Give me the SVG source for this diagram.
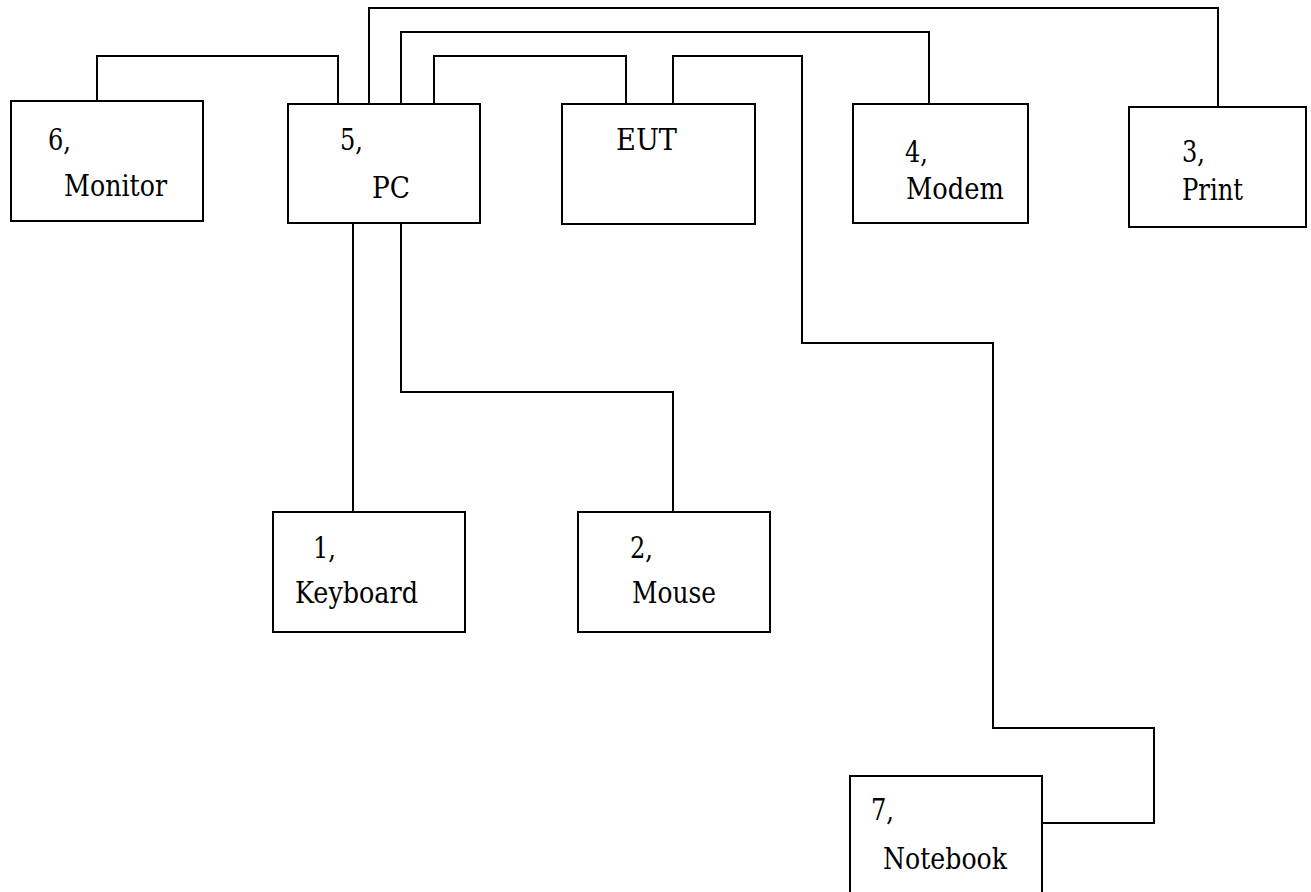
<svg xmlns="http://www.w3.org/2000/svg" width="1311" height="892" viewBox="0 0 1311 892">
<style>
.box{fill:#fff;stroke:#000;stroke-width:2}
.wire{fill:none;stroke:#000;stroke-width:2}
.t{font-family:'DejaVu Serif','Liberation Serif',serif;font-size:29px;fill:#000}
</style>
<rect width="1311" height="892" fill="#fff"/>
<g id="connectors">
<polyline class="wire" points="97,101 97,56 338,56 338,104"/>
<polyline class="wire" points="369,104 369,8 1218,8 1218,107"/>
<polyline class="wire" points="401,104 401,32 929,32 929,104"/>
<polyline class="wire" points="434,104 434,56 626,56 626,104"/>
<polyline class="wire" points="673,104 673,56 802,56 802,343 993,343 993,728 1154,728 1154,823 1042,823"/>
<polyline class="wire" points="353,223 353,512"/>
<polyline class="wire" points="401,223 401,392 673,392 673,512"/>
</g>
<g id="monitor" class="t"><rect class="box" x="11" y="101" width="192" height="120"/><text x="48" y="150" textLength="23" lengthAdjust="spacingAndGlyphs">6,</text><text x="64" y="196" textLength="103" lengthAdjust="spacingAndGlyphs">Monitor</text></g>
<g id="pc" class="t"><rect class="box" x="288" y="104" width="192" height="119"/><text x="340" y="150" textLength="23" lengthAdjust="spacingAndGlyphs">5,</text><text x="372" y="198" textLength="38" lengthAdjust="spacingAndGlyphs">PC</text></g>
<g id="eut" class="t"><rect class="box" x="562" y="104" width="193" height="120"/><text x="616" y="150" textLength="61" lengthAdjust="spacingAndGlyphs">EUT</text></g>
<g id="modem" class="t"><rect class="box" x="853" y="104" width="175" height="119"/><text x="905" y="162" textLength="23" lengthAdjust="spacingAndGlyphs">4,</text><text x="906" y="199" textLength="98" lengthAdjust="spacingAndGlyphs">Modem</text></g>
<g id="print" class="t"><rect class="box" x="1129" y="107" width="177" height="120"/><text x="1182" y="162" textLength="23" lengthAdjust="spacingAndGlyphs">3,</text><text x="1182" y="200" textLength="61" lengthAdjust="spacingAndGlyphs">Print</text></g>
<g id="keyboard" class="t"><rect class="box" x="273" y="512" width="192" height="120"/><text x="313" y="558" textLength="23" lengthAdjust="spacingAndGlyphs">1,</text><text x="295" y="603" textLength="123" lengthAdjust="spacingAndGlyphs">Keyboard</text></g>
<g id="mouse" class="t"><rect class="box" x="578" y="512" width="192" height="120"/><text x="630" y="558" textLength="23" lengthAdjust="spacingAndGlyphs">2,</text><text x="632" y="603" textLength="84" lengthAdjust="spacingAndGlyphs">Mouse</text></g>
<g id="notebook" class="t"><rect class="box" x="850" y="776" width="192" height="122"/><text x="871" y="820" textLength="23" lengthAdjust="spacingAndGlyphs">7,</text><text x="883" y="869" textLength="124" lengthAdjust="spacingAndGlyphs">Notebook</text></g>
</svg>
